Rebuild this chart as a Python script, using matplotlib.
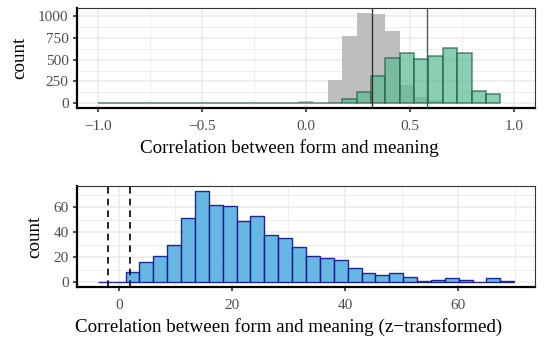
import numpy as np
import matplotlib
matplotlib.use("Agg")
import matplotlib.pyplot as plt
from matplotlib.ticker import MultipleLocator

plt.rcParams['font.family'] = ['Liberation Serif', 'DejaVu Serif']

# top panel: raw correlations, 28 bins from -0.999, width 0.069
r_start, r_width = -0.999, 0.069
r_gray = [0, 0, 0, 0, 0, 0, 0, 0, 0, 0, 0, 0, 0, 0, 26, 0, 270, 768,
          1037, 1022, 824, 206, 75, 37, 10, 5, 0, 0]
r_green = [0, 0, 0, 0, 0, 0, 0, 0, 0, 0, 0, 0, 0, 0, 0, 0, 0, 49,
           131, 311, 517, 573, 506, 543, 629, 580, 142, 112]
r_mean_gray = 0.316
r_mean_green = 0.583

# bottom panel: z-transformed, 30 bins from -3.74, width 2.456
z_start, z_width = -3.74, 2.456
z_counts = [0, 0, 8, 16, 21, 30, 51, 73, 62, 61, 49, 53, 38, 35, 28,
            21, 19, 18, 11, 7, 6, 7, 4, 1, 2, 3, 2, 0, 3, 1]
z_crit = [-1.96, 1.96]

fig = plt.figure(figsize=(5.48, 3.41), dpi=100)
ax1 = fig.add_axes([0.1405, 0.6833, 0.8358, 0.2933])
ax2 = fig.add_axes([0.1405, 0.159, 0.8358, 0.295])

grid_col = '#ebebeb'
tick_col = '#4d4d4d'

def style(ax):
    ax.set_facecolor('white')
    ax.grid(True, which='major', color=grid_col, lw=1.1, zorder=0)
    ax.grid(True, which='minor', color=grid_col, lw=0.6, zorder=0)
    ax.set_axisbelow(True)
    for s in ['top', 'right']:
        ax.spines[s].set_linewidth(0.8)
        ax.spines[s].set_color('#333333')
    for s in ['left', 'bottom']:
        ax.spines[s].set_linewidth(1.6)
        ax.spines[s].set_color('black')
    ax.tick_params(which='major', length=3, width=1.2, color='#333333',
                   labelsize=11, labelcolor=tick_col)
    ax.tick_params(axis='x', pad=5.5)
    ax.tick_params(axis='y', pad=3)
    ax.tick_params(which='minor', length=0)
    ax.set_ylabel('count', fontsize=13.7, labelpad=7)

# top
x1 = r_start + r_width * np.arange(len(r_gray))
ax1.bar(x1, r_gray, width=r_width, align='edge', color='#bebebe',
        edgecolor='none', zorder=2)
ax1.bar(x1, r_green, width=r_width, align='edge', color='#5dbb97',
        alpha=0.72, edgecolor='#1d5c46', linewidth=1.1, zorder=3)
ax1.axvline(r_mean_gray, color='#333333', lw=1.0, zorder=4)
ax1.axvline(r_mean_green, color='#2a6b55', lw=1.0, zorder=4)
ax1.set_xlim(-1.1, 1.1)
ax1.set_ylim(-53, 1089)
ax1.xaxis.set_minor_locator(MultipleLocator(0.25))
ax1.yaxis.set_major_locator(MultipleLocator(250))
ax1.yaxis.set_minor_locator(MultipleLocator(125))
ax1.set_xticks([-1.0, -0.5, 0.0, 0.5, 1.0])
ax1.set_xticklabels(['\u22121.0', '\u22120.5', '0.0', '0.5', '1.0'])
style(ax1)
ax1.set_xlabel('Correlation between form and meaning', fontsize=13.7,
               labelpad=4.5, x=0.463)

# bottom
x2 = z_start + z_width * np.arange(len(z_counts))
ax2.bar(x2, z_counts, width=z_width, align='edge', color='#56b0e0',
        alpha=0.9, edgecolor='#11118c', linewidth=1.0, zorder=3)
for v in z_crit:
    ax2.axvline(v, color='black', lw=1.2, ls=(0, (4, 3)), zorder=4)
ax2.set_xlim(-7.42, 73.62)
ax2.set_ylim(-3.65, 76.65)
ax2.xaxis.set_major_locator(MultipleLocator(20))
ax2.xaxis.set_minor_locator(MultipleLocator(10))
ax2.yaxis.set_major_locator(MultipleLocator(20))
ax2.yaxis.set_minor_locator(MultipleLocator(10))
style(ax2)
ax2.set_xlabel('Correlation between form and meaning (z\u2212transformed)',
               fontsize=13.7, labelpad=4.5, x=0.463)

fig.savefig('out.png', dpi=100)
